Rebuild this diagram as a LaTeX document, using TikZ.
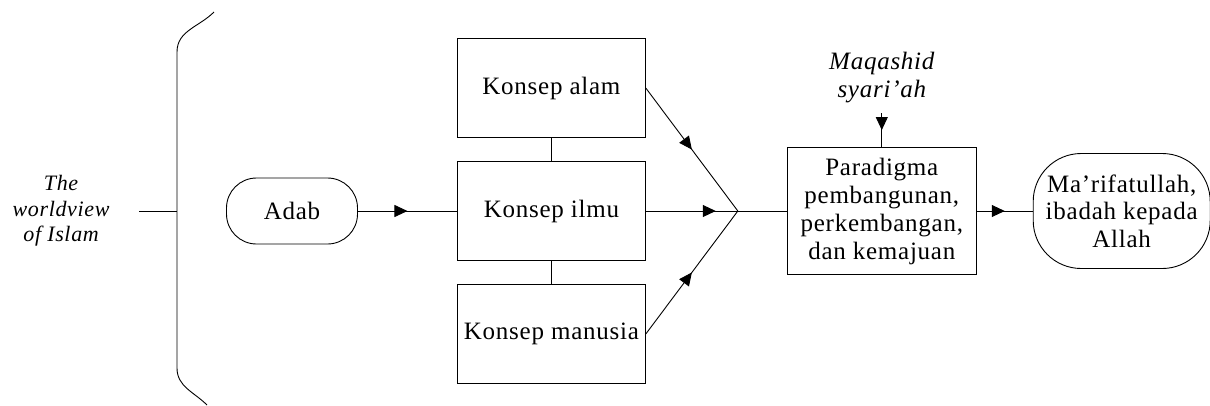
\documentclass[tikz,border=0pt]{standalone}
\usepackage{fontspec}
\setmainfont{Liberation Serif}[LetterSpace=3]
\usetikzlibrary{arrows.meta,positioning,calc,decorations.markings}
\tikzset{
  konsep box/.style={rectangle, draw, align=center, minimum width=188pt, minimum height=99pt, inner sep=2pt, font=\fontsize{25}{28}\selectfont},
  ujung box/.style={rectangle, draw, align=center, inner sep=2pt, font=\fontsize{25}{27.5}\selectfont},
  catatan/.style={align=center, inner xsep=0pt, inner ysep=10pt, font=\itshape\fontsize{25}{28}\selectfont},
  panah tengah/.style={postaction={decorate}, decoration={markings, mark=at position #1 with {\arrow{Triangle[length=13pt,width=12pt]}}}},
  panah tengah/.default=0.5
}

\begin{document}
\begin{tikzpicture}[x=1pt, y=-1pt, line width=0.9pt]
    \useasboundingbox (0,0) rectangle (1210,405);

    % Worldview and bracket
    \coordinate (brace) at (177,211);
    \node [catatan, font=\itshape\fontsize{22}{25.5}\selectfont, left=67pt of brace] (world) {The\\worldview\\of Islam};
    \draw [shorten <=29pt] (world) -- (brace);
    \draw (214,12) to[out=-135, in=90] (177,52) -- (177,368) to[out=-90, in=135] (207,405);

    % Adab and the three concepts
    \node [ujung box, rounded corners=30pt, minimum width=131pt, minimum height=66pt] (adab) at (292,211) {Adab};
    \node [konsep box, right=99pt of adab] (ilmu) {Konsep ilmu};
    \node [konsep box, above=23pt of ilmu] (alam) {Konsep alam};
    \node [konsep box, below=23pt of ilmu] (manusia) {Konsep manusia};
    \draw [panah tengah] (adab) -- (ilmu);
    \draw (alam) -- (ilmu);
    \draw (ilmu) -- (manusia);

    % Meeting point
    \coordinate [right=92pt of ilmu] (join);
    \draw [panah tengah] (alam.east) -- (join);
    \draw [panah tengah=0.76] (ilmu) -- (join);
    \draw [panah tengah] (manusia.east) -- (join);

    % Paradigm and goal
    \node [konsep box, minimum width=189pt, minimum height=127pt, right=49pt of join] (paradigma) {Paradigma\\pembangunan,\\perkembangan,\\dan kemajuan};
    \node [catatan, above=34pt of paradigma] (maqashid) {Maqashid\\syari’ah};
    \node [ujung box, rounded corners=48pt, minimum width=177pt, minimum height=115pt, right=56pt of paradigma] (tujuan) {Ma’rifatullah,\\ibadah kepada\\Allah};
    \draw (join) -- (paradigma);
    \draw [panah tengah] (maqashid) -- (paradigma);
    \draw [panah tengah] (paradigma) -- (tujuan);
\end{tikzpicture}
\end{document}
